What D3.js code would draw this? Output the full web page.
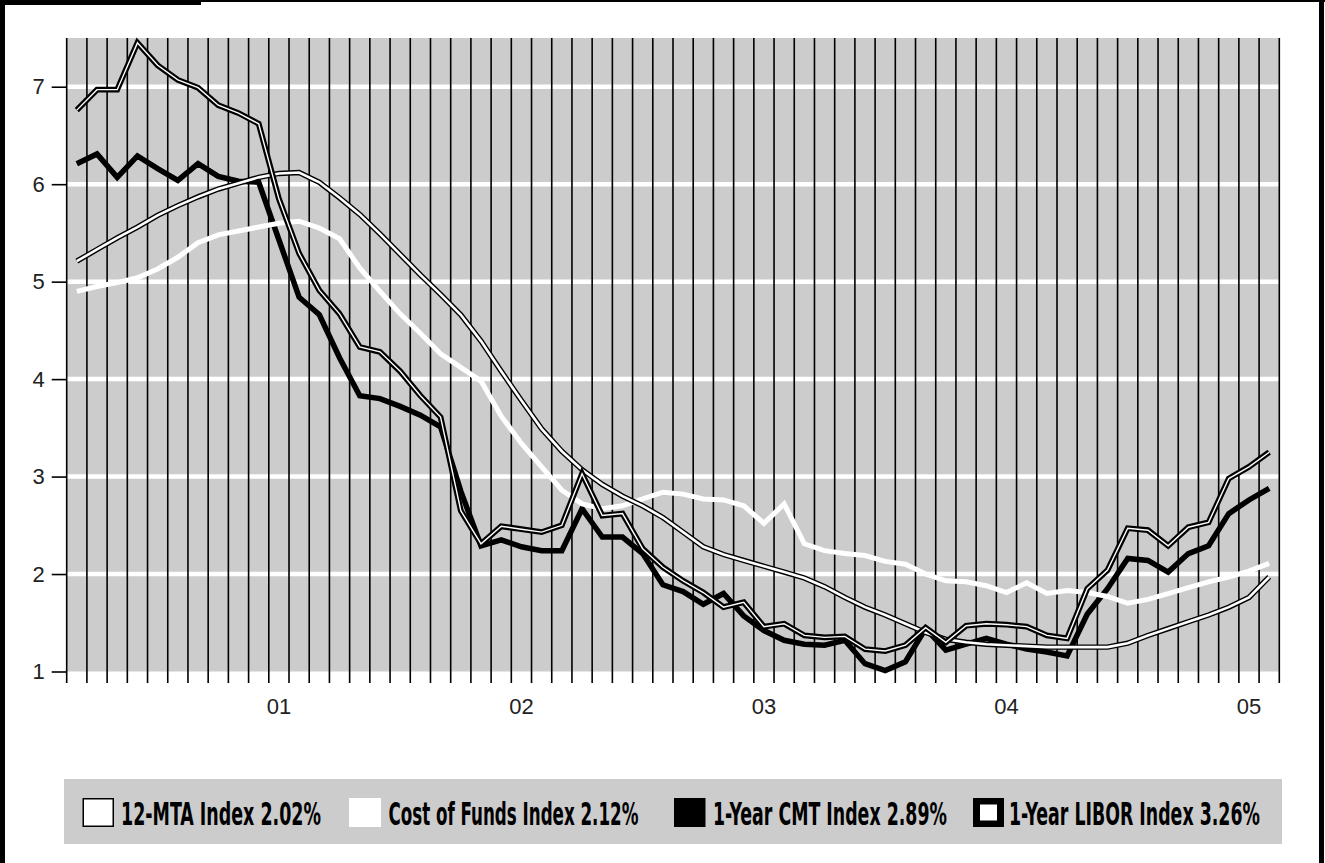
<!DOCTYPE html>
<html>
<head>
<meta charset="utf-8">
<script src="https://cdn.jsdelivr.net/npm/d3@7"></script>
<style>
html, body { margin: 0; padding: 0; background: #fff; }
svg { display: block; }
</style>
</head>
<body>
<script>
// monthly values, Mar 2000 .. Feb 2005
const mta = [5.21,5.33,5.45,5.56,5.68,5.78,5.87,5.95,6.01,6.07,
  6.11,6.12,6.02,5.86,5.69,5.49,5.28,5.07,4.87,4.66,
  4.39,4.08,3.78,3.49,3.26,3.07,2.92,2.80,2.70,2.58,
  2.43,2.28,2.20,2.14,2.08,2.02,1.96,1.87,1.76,1.66,
  1.58,1.49,1.40,1.33,1.30,1.28,1.27,1.26,1.25,1.25,
  1.25,1.25,1.29,1.37,1.44,1.51,1.58,1.66,1.76,1.97];
const cofi = [4.90,4.95,4.99,5.04,5.13,5.25,5.40,5.48,5.52,5.56,
  5.60,5.62,5.55,5.44,5.14,4.90,4.67,4.47,4.26,4.12,
  3.98,3.62,3.34,3.10,2.86,2.72,2.67,2.70,2.77,2.84,
  2.82,2.77,2.76,2.70,2.52,2.72,2.31,2.24,2.21,2.19,
  2.13,2.10,2.00,1.93,1.92,1.88,1.81,1.91,1.80,1.83,
  1.81,1.77,1.70,1.74,1.80,1.86,1.92,1.97,2.03,2.11];
const cmt = [6.21,6.31,6.07,6.29,6.16,6.04,6.21,6.08,6.03,6.02,
  5.43,4.84,4.66,4.22,3.83,3.80,3.72,3.63,3.51,2.85,
  2.29,2.35,2.28,2.24,2.24,2.67,2.38,2.38,2.21,1.89,
  1.82,1.69,1.80,1.57,1.42,1.32,1.28,1.27,1.32,1.08,
  1.01,1.10,1.44,1.22,1.28,1.34,1.28,1.23,1.20,1.16,
  1.59,1.85,2.16,2.14,2.02,2.21,2.29,2.62,2.76,2.88];
const libor = [6.76,6.97,6.97,7.45,7.22,7.07,6.99,6.81,6.73,6.62,
  5.85,5.29,4.91,4.67,4.33,4.28,4.08,3.83,3.61,2.65,
  2.31,2.49,2.46,2.43,2.50,3.03,2.60,2.62,2.26,2.07,
  1.93,1.81,1.66,1.71,1.46,1.49,1.37,1.35,1.36,1.23,
  1.21,1.27,1.45,1.30,1.47,1.49,1.48,1.46,1.37,1.34,
  1.85,2.04,2.47,2.45,2.29,2.48,2.53,2.98,3.10,3.25];
const yTicks = [1, 2, 3, 4, 5, 6, 7];
const legendLabels = ["12-MTA Index 2.02%", "Cost of Funds Index 2.12%",
  "1-Year CMT Index 2.89%", "1-Year LIBOR Index 3.26%"];

const width = 1325, height = 863;
const months = d3.timeMonth.range(new Date(2000, 2, 1), new Date(2005, 2, 1));

const x = d3.scaleBand().domain(months).range([66.7, 1279.3]).padding(0);
const y = d3.scaleLinear().domain([1, 7.5]).range([671.5, 38]);
const bw = x.bandwidth();

const svg = d3.select("body").append("svg")
    .attr("width", width)
    .attr("height", height)
    .style("font-family", "'Liberation Sans', Arial, sans-serif");

// plot background
svg.append("rect")
    .attr("x", x.range()[0]).attr("y", y(7.5))
    .attr("width", x.range()[1] - x.range()[0])
    .attr("height", y(1) - y(7.5))
    .attr("fill", "#cccccc");

svg.append("g").selectAll("line")
  .data(yTicks.filter(d => d > 1))
  .join("line")
    .attr("x1", x.range()[0]).attr("x2", x.range()[1])
    .attr("y1", d => y(d)).attr("y2", d => y(d))
    .attr("stroke", "#fff")
    .attr("stroke-width", 4.5);

// month separators, running down past the plot as ticks
const edges = months.map(m => x(m)).concat([x.range()[1]]);
svg.append("g").selectAll("line")
  .data(edges)
  .join("line")
    .attr("x1", d => d).attr("x2", d => d)
    .attr("y1", y(7.5)).attr("y2", 683)
    .attr("stroke", "#000")
    .attr("stroke-width", 1.6);

const line = d3.line()
    .x((d, i) => x(months[i]) + bw / 2)
    .y(d => y(d));

const plot = svg.append("g")
    .attr("fill", "none")
    .attr("stroke-linejoin", "miter")
    .attr("stroke-miterlimit", 3);

plot.append("path").datum(cmt).attr("d", line)
    .attr("stroke", "#000").attr("stroke-width", 5.5);
plot.append("path").datum(cofi).attr("d", line)
    .attr("stroke", "#fff").attr("stroke-width", 5);
plot.append("path").datum(mta).attr("d", line)
    .attr("stroke", "#000").attr("stroke-width", 5.4);
plot.append("path").datum(mta).attr("d", line)
    .attr("stroke", "#fff").attr("stroke-width", 2.6);
plot.append("path").datum(libor).attr("d", line)
    .attr("stroke", "#000").attr("stroke-width", 5.8);
plot.append("path").datum(libor).attr("d", line)
    .attr("stroke", "#fff").attr("stroke-width", 1.4);

// axes
const yAxis = svg.append("g")
    .attr("transform", `translate(${x.range()[0]},0)`)
    .call(d3.axisLeft(y).tickValues(yTicks).tickSize(15).tickPadding(7).tickFormat(d3.format("d")));
yAxis.select(".domain").remove();
yAxis.selectAll("line").attr("stroke", "#000").attr("stroke-width", 1.6);
yAxis.selectAll("text").attr("font-size", 22).attr("fill", "#222")
    .attr("font-family", "'Liberation Sans', Arial, sans-serif");

const xAxis = svg.append("g")
    .attr("transform", "translate(0,683)")
    .call(d3.axisBottom(x)
      .tickValues(months.filter(d => d.getMonth() === 0))
      .tickSize(0).tickPadding(15)
      .tickFormat(d3.timeFormat("%y")));
xAxis.select(".domain").remove();
xAxis.selectAll("text").attr("font-size", 22).attr("fill", "#222")
    .attr("font-family", "'Liberation Sans', Arial, sans-serif");

// legend
svg.append("rect")
    .attr("x", 64).attr("y", 779)
    .attr("width", 1218).attr("height", 65)
    .attr("fill", "#cccccc");

const boxX = [82.5, 349, 674, 973];
const textX = [121, 388.5, 713, 1009];
const textW = [200, 250, 234, 251];
const lg = svg.append("g");
legendLabels.forEach((label, i) => {
  if (i === 0) {
    lg.append("rect").attr("x", boxX[i] + 0.75).attr("y", 798.75)
      .attr("width", 30).attr("height", 27.5)
      .attr("fill", "#fff").attr("stroke", "#000").attr("stroke-width", 1.5);
  } else if (i === 1) {
    lg.append("rect").attr("x", boxX[i]).attr("y", 798)
      .attr("width", 32).attr("height", 29).attr("fill", "#fff");
  } else if (i === 2) {
    lg.append("rect").attr("x", boxX[i]).attr("y", 798)
      .attr("width", 31.5).attr("height", 29).attr("fill", "#000");
  } else {
    lg.append("rect").attr("x", boxX[i]).attr("y", 798)
      .attr("width", 31).attr("height", 29).attr("fill", "#000");
    lg.append("rect").attr("x", boxX[i] + 7).attr("y", 804.5)
      .attr("width", 17).attr("height", 16).attr("fill", "#fff");
  }
  // condensed look: squeeze the bold text horizontally to its printed width
  const t = lg.append("text")
      .attr("font-family", "'Liberation Sans Narrow', 'DejaVu Sans Condensed', 'Liberation Sans', sans-serif")
      .attr("font-weight", "bold")
      .attr("font-size", 32)
      .attr("fill", "#000")
      .text(label);
  const natural = t.node().getComputedTextLength();
  t.attr("transform", `translate(${textX[i]},825) scale(${textW[i] / natural},1)`);
});

// frame
const frame = svg.append("g").attr("fill", "#000");
frame.append("rect").attr("x", 0).attr("y", 0).attr("width", 5).attr("height", height);
frame.append("rect").attr("x", 0).attr("y", 0).attr("width", 201).attr("height", 5);
frame.append("rect").attr("x", 0).attr("y", 0).attr("width", width).attr("height", 2);
frame.append("rect").attr("x", 1319).attr("y", 0).attr("width", 5).attr("height", height);
</script>
</body>
</html>
